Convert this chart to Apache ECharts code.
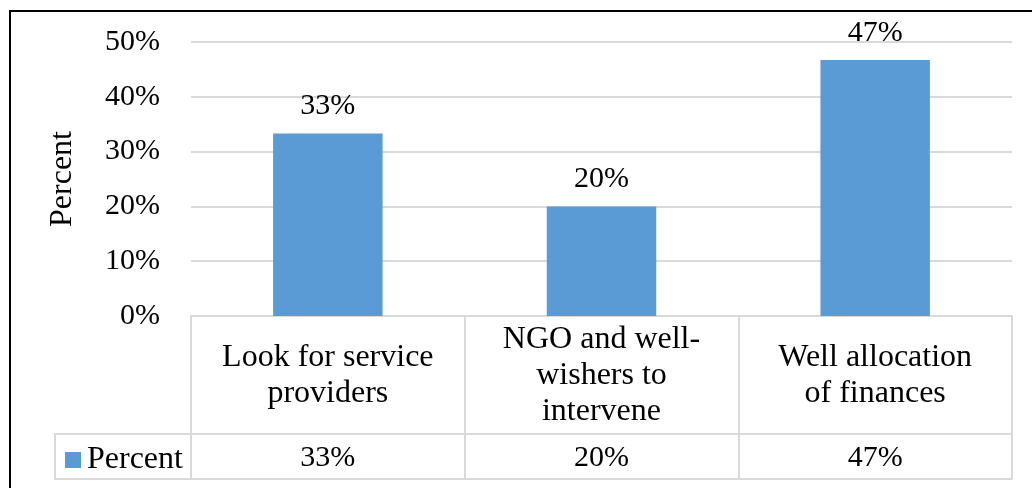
<!DOCTYPE html>
<html>
<head>
<meta charset="utf-8">
<script src="https://cdn.jsdelivr.net/npm/echarts@6/dist/echarts.min.js"></script>
<style>
  html, body { margin: 0; padding: 0; background: #fff; }
  #chart { width: 1032px; height: 488px; }
</style>
</head>
<body>
<div id="chart"></div>
<script>
  // data
  const categories = ['Look for service\nproviders', 'NGO and well-\nwishers to\nintervene', 'Well allocation\nof finances']
  const values = [33.3, 20.0, 46.7]
  const seriesName = 'Percent'
  const yTicks = [0, 10, 20, 30, 40, 50]

  const font = 'Liberation Serif, Times New Roman, serif'
  const gridColor = '#d9d9d9'
  const fmt = v => Math.round(v) + '%'

  let chart = echarts.init(document.getElementById('chart'))

  let option = {
    animation: false,
    textStyle: { fontFamily: font },
    grid: { left: 191, right: 20, top: 42, bottom: 172 },
    legend: {
      data: [seriesName],
      left: 60, top: 439,
      icon: 'rect', itemWidth: 16, itemHeight: 16, itemGap: 0,
      textStyle: { fontFamily: font, fontSize: 32, color: '#000', padding: [0, 0, 0, 1] }
    },
    xAxis: [
      {
        // category row of the data table
        type: 'category',
        data: categories,
        axisLine: { lineStyle: { color: gridColor, width: 2 } },
        axisTick: { show: true, length: 118, lineStyle: { color: gridColor, width: 2 } },
        axisLabel: {
          interval: 0, margin: 60, verticalAlign: 'middle',
          fontFamily: font, fontSize: 32, lineHeight: 36, color: '#000'
        }
      },
      {
        // value row of the data table
        type: 'category',
        position: 'bottom',
        offset: 118,
        data: values.map(fmt),
        axisLine: { lineStyle: { color: gridColor, width: 2 } },
        axisTick: { show: true, length: 45, lineStyle: { color: gridColor, width: 2 } },
        axisLabel: {
          interval: 0, margin: 24, verticalAlign: 'middle',
          fontFamily: font, fontSize: 30, color: '#000'
        }
      },
      {
        // bottom edge of the table
        type: 'category',
        position: 'bottom',
        offset: 163,
        data: categories,
        axisLine: { lineStyle: { color: gridColor, width: 2 } },
        axisTick: { show: false },
        axisLabel: { show: false }
      }
    ],
    yAxis: {
      type: 'value',
      min: yTicks[0], max: yTicks[yTicks.length - 1], interval: 10,
      name: 'Percent',
      nameLocation: 'middle',
      nameGap: 112,
      nameTextStyle: { fontFamily: font, fontSize: 32, color: '#000' },
      axisLine: { show: false },
      axisTick: { show: false },
      axisLabel: { formatter: '{value}%', margin: 31, fontFamily: font, fontSize: 30, color: '#000' },
      splitLine: { lineStyle: { color: gridColor, width: 2 } }
    },
    series: [
      {
        name: seriesName,
        type: 'bar',
        data: values,
        barWidth: '40%',
        itemStyle: { color: '#5b9bd5' },
        label: {
          show: true, position: 'top', distance: 12,
          formatter: p => fmt(p.value),
          fontFamily: font, fontSize: 30, color: '#000'
        }
      }
    ],
    graphic: [
      // legend cell of the table
      {
        type: 'rect', shape: { x: 55, y: 434, width: 136, height: 45 },
        style: { fill: 'none', stroke: gridColor, lineWidth: 2 }, silent: true
      },
      // outer frame
      {
        type: 'rect', shape: { x: 10, y: 11, width: 1040, height: 500 },
        style: { fill: 'none', stroke: '#000', lineWidth: 2 }, silent: true
      }
    ]
  }

  chart.setOption(option)
</script>
</body>
</html>
